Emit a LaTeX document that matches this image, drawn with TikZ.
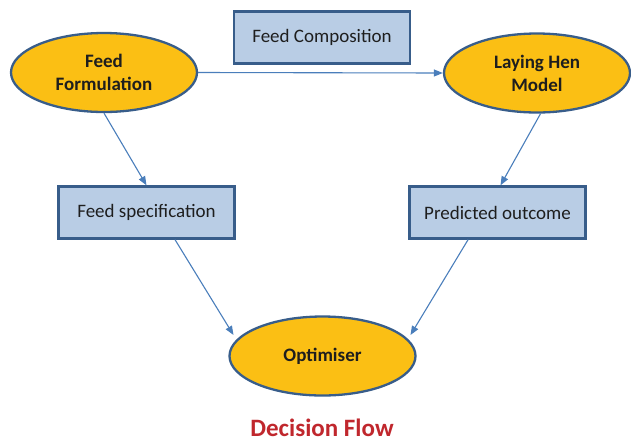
\documentclass[tikz,border=0pt]{standalone}
\usepackage{fontspec}
\setmainfont{Carlito}
\usetikzlibrary{shapes.geometric,arrows.meta,calc}
\definecolor{ellfill}{HTML}{FBBF14}
\definecolor{edgeblue}{HTML}{385D8A}
\definecolor{boxfill}{HTML}{B9CDE5}
\definecolor{arrblue}{HTML}{4A7EBB}
\definecolor{txt}{HTML}{1E1E1E}
\definecolor{titlered}{HTML}{C0272D}
\tikzset{
  ell/.style={ellipse, draw=edgeblue, line width=2.3pt, fill=ellfill, minimum width=186pt, minimum height=79pt, inner sep=0pt, align=center, font=\fontsize{19}{23}\selectfont\bfseries, text=txt},
  bx/.style={rectangle, draw=edgeblue, line width=2.3pt, fill=boxfill, minimum width=176pt, minimum height=52pt, inner sep=0pt, font=\fontsize{19}{23}\selectfont, text=txt},
  arr/.style={draw=arrblue, line width=1.1pt, -{Triangle[length=9pt,width=7pt]}}
}
\begin{document}
\begin{tikzpicture}[x=1pt,y=-1pt]
\useasboundingbox (0,0) rectangle (631,440);
\node[ell] (ff) at (104,72.5) {Feed\\Formulation};
\node[ell] (lhm) at (537,73) {Laying Hen\\Model};
\node[bx] (fc) at (322,37.5) {Feed Composition};
\node[bx] (fs) at (146.5,212.5) {Feed specification};
\node[bx] (po) at (497.5,212.5) {Predicted outcome};
\node[ell, minimum height=79pt] (opt) at (322.5,356) {Optimiser};
\node[font=\fontsize{25}{30}\selectfont\bfseries, text=titlered, inner sep=0pt] (title) at (322,428) {Decision Flow};
\coordinate (optl) at ($(opt.center)+(-89,-21)$);
\coordinate (optr) at ($(opt.center)+(88,-21)$);
\draw[arr] (ff.east) -- (lhm.west);
\draw[arr] (ff.south) -- (fs.north);
\draw[arr] (lhm.-85) -- ($(po.north)+(3,0)$);
\draw[arr] ($(fs.south west)!0.66!(fs.south east)$) -- (optl);
\draw[arr] ($(po.south west)!0.335!(po.south east)$) -- (optr);
\end{tikzpicture}
\end{document}
